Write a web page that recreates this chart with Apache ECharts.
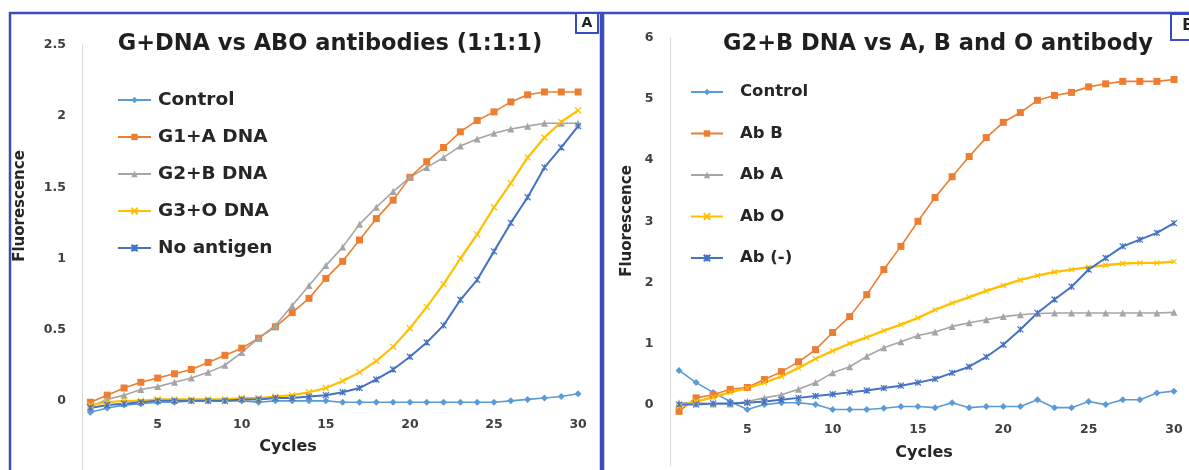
<!DOCTYPE html>
<html>
<head>
<meta charset="utf-8">
<script src="https://cdn.jsdelivr.net/npm/echarts@6/dist/echarts.min.js"></script>
<style>
html,body{margin:0;padding:0;background:#fff;}
#chart{width:1189px;height:470px;}
</style>
</head>
<body>
<div id="chart"></div>
<script>
// ---------- DATA ----------
const cycles = [1,2,3,4,5,6,7,8,9,10,11,12,13,14,15,16,17,18,19,20,21,22,23,24,25,26,27,28,29,30];

// Panel A: G+DNA vs ABO antibodies (1:1:1)
const aNames = ['Control','G1+A DNA','G2+B DNA','G3+O DNA','No antigen'];
const aControl = [-0.08,-0.05,-0.03,-0.02,-0.01,-0.01,0,0,0,0,-0.01,0,0,0,0,-0.01,-0.01,-0.01,-0.01,-0.01,-0.01,-0.01,-0.01,-0.01,-0.01,0,0.01,0.02,0.03,0.05];
const aG1A = [-0.01,0.04,0.09,0.13,0.16,0.19,0.22,0.27,0.32,0.37,0.44,0.52,0.62,0.72,0.86,0.98,1.13,1.28,1.41,1.57,1.68,1.78,1.89,1.97,2.03,2.10,2.15,2.17,2.17,2.17];
const aG2B = [-0.04,0.01,0.04,0.08,0.10,0.13,0.16,0.20,0.25,0.34,0.44,0.53,0.67,0.81,0.95,1.08,1.24,1.36,1.47,1.57,1.64,1.71,1.79,1.84,1.88,1.91,1.93,1.95,1.95,1.95];
const aG3O = [-0.03,-0.01,0,0,0.01,0.01,0.01,0.01,0.01,0.02,0.02,0.03,0.04,0.06,0.09,0.14,0.20,0.28,0.38,0.51,0.66,0.82,1.00,1.17,1.36,1.53,1.71,1.85,1.96,2.04];
const aNoAg = [-0.05,-0.03,-0.02,-0.01,0,0,0,0,0,0.01,0.01,0.02,0.02,0.03,0.04,0.06,0.09,0.15,0.22,0.31,0.41,0.53,0.71,0.85,1.05,1.25,1.43,1.64,1.78,1.93];
const aTicks = [0,0.5,1,1.5,2,2.5];

// Panel B: G2+B DNA vs A, B and O antibody
const bNames = ['Control','Ab B','Ab A','Ab O','Ab (-)'];
const bControl = [0.56,0.36,0.20,0.05,-0.08,0,0.03,0.03,0,-0.08,-0.08,-0.08,-0.06,-0.03,-0.03,-0.05,0.03,-0.05,-0.03,-0.03,-0.03,0.08,-0.05,-0.05,0.05,0,0.08,0.08,0.19,0.22];
const bAbB = [-0.11,0.11,0.16,0.25,0.28,0.41,0.54,0.70,0.90,1.18,1.44,1.80,2.21,2.59,3.00,3.39,3.73,4.06,4.37,4.62,4.78,4.98,5.06,5.11,5.20,5.25,5.29,5.29,5.29,5.32];
const bAbA = [0.03,0.03,0.01,0.01,0.05,0.11,0.16,0.25,0.36,0.52,0.62,0.79,0.93,1.03,1.13,1.19,1.28,1.34,1.39,1.44,1.47,1.49,1.50,1.50,1.50,1.50,1.50,1.50,1.50,1.51];
const bAbO = [-0.03,0.05,0.12,0.20,0.27,0.36,0.46,0.60,0.75,0.88,1.00,1.10,1.21,1.31,1.42,1.55,1.66,1.76,1.86,1.95,2.04,2.11,2.17,2.21,2.25,2.28,2.31,2.32,2.32,2.34];
const bAbNeg = [0.0,0.0,0.02,0.02,0.03,0.05,0.08,0.11,0.14,0.17,0.20,0.23,0.27,0.31,0.36,0.42,0.52,0.62,0.78,0.98,1.23,1.50,1.72,1.93,2.21,2.40,2.59,2.70,2.81,2.97];
const bTicks = [0,1,2,3,4,5,6];

// ---------- STYLE ----------
const C1 = '#5B9BD5', C2 = '#ED7D31', C3 = '#A5A5A5', C4 = '#FFC000', C5 = '#4472C4';
const BORDER = '#3b4cc0';
const FONT = '"DejaVu Sans", sans-serif';
const xSym = 'path://M0,0L10,10M10,0L0,10';
const starSym = 'path://M0,0L10,10M10,0L0,10M5,0L5,10';

function ser(name, data, color, symbol, size, idx, lw, strokeSym) {
  return {
    name, type: 'line', data, xAxisIndex: idx, yAxisIndex: idx,
    symbol, symbolSize: size, showSymbol: true,
    lineStyle: { color, width: lw || 1.6 },
    itemStyle: strokeSym ? { color: 'rgba(0,0,0,0)', borderColor: color, borderWidth: 1.2 } : { color, borderColor: color, borderWidth: 0 },
    emphasis: { disabled: true },
    z: 3
  };
}

const labelStyle = { color: '#404040', fontFamily: FONT, fontWeight: 'bold', fontSize: 12.5 };

const option = {
  animation: false,
  backgroundColor: '#fff',
  textStyle: { fontFamily: FONT },
  title: [
    { text: 'G+DNA vs ABO antibodies (1:1:1)', left: 325, top: 28, textAlign: 'center',
      textStyle: { fontFamily: FONT, fontWeight: 'bold', fontSize: 22.5, color: '#1f1f1f' } },
    { text: 'G2+B DNA vs A, B and O antibody', left: 933, top: 28, textAlign: 'center',
      textStyle: { fontFamily: FONT, fontWeight: 'bold', fontSize: 22.5, color: '#1f1f1f' } }
  ],
  legend: [
    { data: aNames, orient: 'vertical', left: 112, top: 85, itemWidth: 33, itemHeight: 8, itemGap: 17,
      textStyle: { fontFamily: FONT, fontWeight: 'bold', fontSize: 18.5, color: '#262626', lineHeight: 20, padding: [0,0,0,2] },
      selectedMode: false },
    { data: bNames, orient: 'vertical', left: 685, top: 77, itemWidth: 32, itemHeight: 8, itemGap: 21.5,
      textStyle: { fontFamily: FONT, fontWeight: 'bold', fontSize: 16.5, color: '#262626', lineHeight: 20, padding: [0,0,0,12] },
      selectedMode: false }
  ],
  grid: [
    { left: 82, top: 45, width: 504.5, height: 427, containLabel: false, outerBoundsMode: 'none' },
    { left: 670.5, top: 38, width: 512, height: 427.7, containLabel: false, outerBoundsMode: 'none' }
  ],
  xAxis: [0,1].map(i => ({
    type: 'category', gridIndex: i, data: cycles, boundaryGap: true, position: 'bottom',
    offset: i === 0 ? -71 : -61,
    axisLine: { show: false, onZero: false },
    axisTick: { show: false },
    splitLine: { show: false },
    axisLabel: Object.assign({ interval: (idx, v) => Number(v) % 5 === 0, margin: i === 0 ? 17 : 19 }, labelStyle)
  })),
  yAxis: [
    { type: 'value', gridIndex: 0, min: -0.5, max: 2.5, interval: 0.5,
      axisLine: { show: true, lineStyle: { color: '#d9d9d9', width: 1 } },
      axisTick: { show: false }, splitLine: { show: false },
      axisLabel: Object.assign({ margin: 16, customValues: aTicks }, labelStyle) },
    { type: 'value', gridIndex: 1, min: -1, max: 6, interval: 1,
      axisLine: { show: true, lineStyle: { color: '#d9d9d9', width: 1 } },
      axisTick: { show: false }, splitLine: { show: false },
      axisLabel: Object.assign({ margin: 17, customValues: bTicks }, labelStyle) }
  ],
  series: [
    ser(aNames[0], aControl, C1, 'diamond', 7, 0, 1.6),
    ser(aNames[1], aG1A, C2, 'rect', 7, 0, 1.6),
    ser(aNames[2], aG2B, C3, 'triangle', 7, 0, 1.6),
    ser(aNames[3], aG3O, C4, xSym, 6, 0, 2.2, true),
    ser(aNames[4], aNoAg, C5, starSym, 6, 0, 2.0, true),
    ser(bNames[0], bControl, C1, 'diamond', 7, 1, 1.6),
    ser(bNames[1], bAbB, C2, 'rect', 7, 1, 1.6),
    ser(bNames[2], bAbA, C3, 'triangle', 7, 1, 1.6),
    ser(bNames[3], bAbO, C4, xSym, 5, 1, 2.4, true),
    ser(bNames[4], bAbNeg, C5, starSym, 6, 1, 2.0, true)
  ],
  graphic: [
    { type: 'rect', shape: { x: 10, y: 13, width: 591, height: 480 }, style: { fill: 'none', stroke: BORDER, lineWidth: 2.5 }, z: 100, silent: true },
    { type: 'rect', shape: { x: 603, y: 13, width: 600, height: 480 }, style: { fill: 'none', stroke: BORDER, lineWidth: 2.5 }, z: 100, silent: true },
    { type: 'rect', shape: { x: 576, y: 13, width: 22, height: 20 }, style: { fill: '#fff', stroke: BORDER, lineWidth: 2 }, z: 101, silent: true },
    { type: 'text', x: 587, y: 23, style: { text: 'A', fontFamily: FONT, fontWeight: 'bold', fontSize: 14, fill: '#222', align: 'center', verticalAlign: 'middle' }, z: 102, silent: true },
    { type: 'rect', shape: { x: 1171, y: 14, width: 30, height: 26 }, style: { fill: '#fff', stroke: BORDER, lineWidth: 2 }, z: 101, silent: true },
    { type: 'text', x: 1188, y: 26, style: { text: 'B', fontFamily: FONT, fontWeight: 'bold', fontSize: 15, fill: '#222', align: 'center', verticalAlign: 'middle' }, z: 102, silent: true },
    { type: 'text', x: 20, y: 206, rotation: Math.PI / 2, style: { text: 'Fluorescence', fontFamily: FONT, fontWeight: 'bold', fontSize: 15, fill: '#262626', align: 'center', verticalAlign: 'middle' }, silent: true },
    { type: 'text', x: 627, y: 221, rotation: Math.PI / 2, style: { text: 'Fluorescence', fontFamily: FONT, fontWeight: 'bold', fontSize: 15, fill: '#262626', align: 'center', verticalAlign: 'middle' }, silent: true },
    { type: 'text', x: 288, y: 447, style: { text: 'Cycles', fontFamily: FONT, fontWeight: 'bold', fontSize: 16, fill: '#262626', align: 'center', verticalAlign: 'middle' }, silent: true },
    { type: 'text', x: 924, y: 453, style: { text: 'Cycles', fontFamily: FONT, fontWeight: 'bold', fontSize: 16, fill: '#262626', align: 'center', verticalAlign: 'middle' }, silent: true }
  ]
};

const chart = echarts.init(document.getElementById('chart'), null, { renderer: 'canvas' });
chart.setOption(option);
</script>
</body>
</html>
